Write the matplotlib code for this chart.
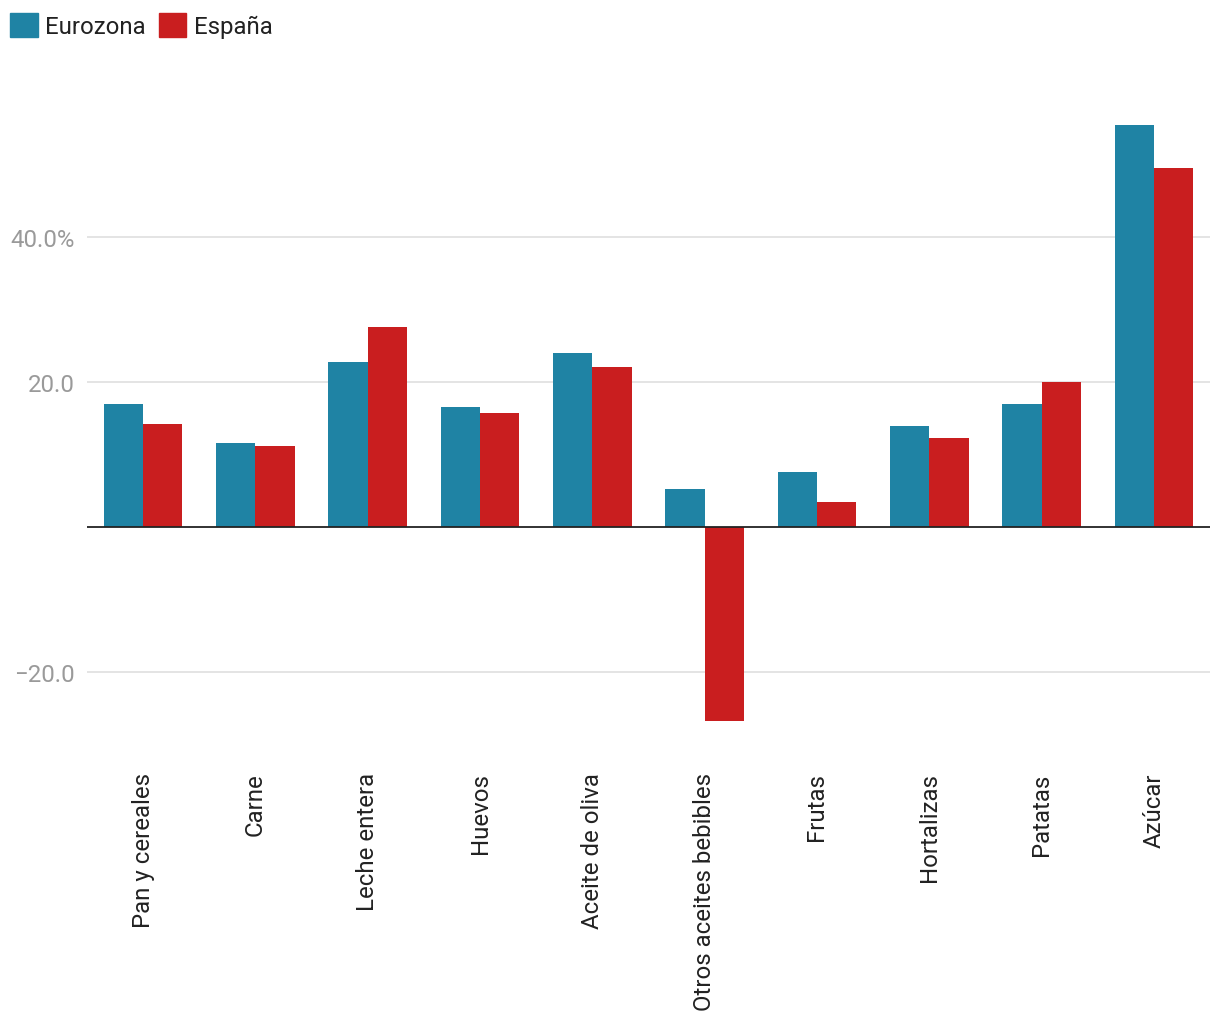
import numpy as np
import matplotlib
matplotlib.use('agg')
import matplotlib.pyplot as plt
from matplotlib.patches import Patch

plt.rcParams['font.family'] = ['Roboto', 'DejaVu Sans']

categorias = ["Pan y cereales", "Carne", "Leche entera", "Huevos", "Aceite de oliva",
              "Otros aceites bebibles", "Frutas", "Hortalizas", "Patatas", "Azúcar"]
eurozona = [17.0, 11.6, 22.8, 16.6, 24.0, 5.2, 7.6, 13.9, 17.0, 55.4]
espana = [14.2, 11.2, 27.6, 15.7, 22.1, -26.8, 3.4, 12.3, 20.0, 49.5]
yticks = [-20, 20, 40]
yticklabels = ["\u221220.0", "20.0", "40.0%"]

c_euro = "#1f83a4"
c_esp = "#c91e1f"

fig = plt.figure(figsize=(12.2, 10.2), dpi=100)
ax = fig.add_axes([0.0713, 0.2691, 0.9205, 0.661])

x = np.arange(len(categorias))
w = 0.35
ax.bar(x - w / 2, eurozona, w, color=c_euro, zorder=3)
ax.bar(x + w / 2, espana, w, color=c_esp, zorder=3)

ax.set_xlim(-0.5, len(categorias) - 0.5)
ax.set_ylim(-30, 63)
ax.set_yticks(yticks)
ax.set_yticklabels(yticklabels, fontsize=17.3, color="#9a9a9a")
ax.set_xticks(x)
ax.set_xticklabels(categorias, rotation=90, fontsize=17.3, color="#222222", va="top")
ax.tick_params(axis="y", length=0, pad=9)
ax.tick_params(axis="x", length=0, pad=20)
ax.grid(axis="y", color="#e2e2e2", lw=1.3, zorder=0)
ax.axhline(0, color="#222222", lw=1.3, zorder=4)
for s in ax.spines.values():
    s.set_visible(False)

handles = [Patch(color=c_euro, label="Eurozona"), Patch(color=c_esp, label="España")]
leg = fig.legend(handles=handles, loc="upper left", bbox_to_anchor=(-0.0035, 1.0), ncol=2,
                 frameon=False, fontsize=17.3, handlelength=1.15, handleheight=1.15,
                 handletextpad=0.3, columnspacing=0.55, borderaxespad=0.2)
for t in leg.get_texts():
    t.set_color("#222222")

plt.savefig("out.png", dpi=100)
plt.close()
